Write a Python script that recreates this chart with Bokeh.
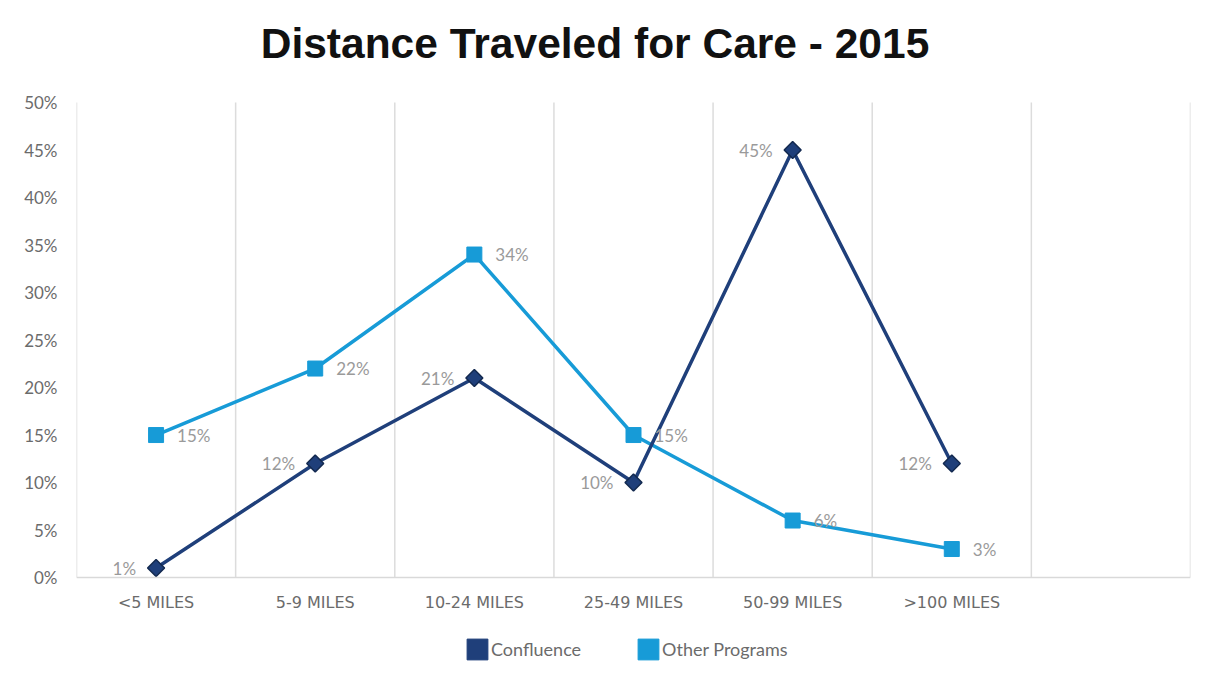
import math
from bokeh.plotting import figure
from bokeh.models import (FixedTicker, Legend, LegendItem, ColumnDataSource, Range1d, Span, Label)
from bokeh.embed import file_html
from bokeh.resources import INLINE
from bokeh.core.properties import value

# ---- data ----
categories = ["<5 MILES", "5-9 MILES", "10-24 MILES", "25-49 MILES", "50-99 MILES", ">100 MILES"]
confluence = [1, 12, 21, 10, 45, 12]
other_programs = [15, 22, 34, 15, 6, 3]
y_ticks = [0, 5, 10, 15, 20, 25, 30, 35, 40, 45, 50]
n_slots = 7  # one empty slot at the right

title_text = "Distance Traveled for Care - 2015"
series_names = ["Confluence", "Other Programs"]
colors = ["#1f3f7a", "#179bd7"]

xs = [i + 0.5 for i in range(len(categories))]
y_max = y_ticks[-1]

# frame extends beyond 0..50 so that title and legend can sit inside it
p = figure(width=1212, height=686, output_backend="svg", toolbar_location=None,
           x_range=Range1d(0, n_slots), y_range=Range1d(-11.26, 60.53),
           min_border_left=76, min_border_right=22, min_border_top=2, min_border_bottom=2)
p.outline_line_color = None
p.background_fill_color = "white"
p.border_fill_color = "white"

# title
p.add_layout(Label(x=518.5, y=641, x_units="screen", y_units="screen", text=title_text,
                   text_align="center", text_baseline="middle", text_font="Liberation Sans",
                   text_font_style="bold", text_font_size="42.5px", text_color="#111111"))

# grid: vertical lines at category boundaries, from 0 to the top
p.xgrid.grid_line_color = None
p.ygrid.grid_line_color = None
bounds = list(range(n_slots + 1))
p.segment(x0=bounds, y0=[0] * len(bounds), x1=bounds, y1=[y_max] * len(bounds),
          line_color="#dcdcdc", line_width=1.5)
p.add_layout(Span(location=0, dimension="width", line_color="#d9d9d9", line_width=1.5))

# x axis drawn as text under the zero line
p.xaxis.visible = False
p.text(x=xs, y=[0] * len(xs), text=categories, y_offset=25, text_align="center",
       text_baseline="middle", text_font=value("DejaVu Sans"), text_font_size="16px",
       text_color="#6b6b6b")

# y axis
p.yaxis.ticker = FixedTicker(ticks=y_ticks)
p.yaxis.major_label_overrides = {t: f"{t}%" for t in y_ticks}
p.yaxis.axis_line_color = None
p.yaxis.major_tick_line_color = None
p.yaxis.minor_tick_line_color = None
p.yaxis.major_tick_out = 0
p.yaxis.major_label_standoff = 19
p.yaxis.major_label_text_font = "Lato"
p.yaxis.major_label_text_font_size = "17px"
p.yaxis.major_label_text_color = "#6b6b6b"

# series
src_c = ColumnDataSource(dict(x=xs, y=confluence, lab=[f"{v}%" for v in confluence]))
src_o = ColumnDataSource(dict(x=xs, y=other_programs, lab=[f"{v}%" for v in other_programs]))

p.line("x", "y", source=src_o, line_color=colors[1], line_width=3.5)
p.scatter("x", "y", source=src_o, marker="square", size=15, fill_color=colors[1], line_color=colors[1])
p.line("x", "y", source=src_c, line_color=colors[0], line_width=3.5)
p.scatter("x", "y", source=src_c, marker="square", angle=math.pi / 4, size=12,
          fill_color=colors[0], line_color="#13294f", line_width=1.5)

p.text("x", "y", text="lab", source=src_c, x_offset=-20, text_align="right", text_baseline="middle",
       text_font=value("Lato"), text_font_size="17px", text_color="#9a9a9a")
p.text("x", "y", text="lab", source=src_o, x_offset=21, text_align="left", text_baseline="middle",
       text_font=value("Lato"), text_font_size="17px", text_color="#9a9a9a")

# legend with square swatches (zero-width dummy bars only provide the swatches)
leg_c = p.vbar(x=[0], top=[0], width=0, fill_color=colors[0], line_color=colors[0])
leg_o = p.vbar(x=[0], top=[0], width=0, fill_color=colors[1], line_color=colors[1])
legend = Legend(items=[LegendItem(label=series_names[0], renderers=[leg_c]),
                       LegendItem(label=series_names[1], renderers=[leg_o])],
                orientation="horizontal", location=(388, 22), border_line_color=None,
                background_fill_alpha=0,
                label_text_font="Lato", label_text_font_size="18px", label_text_color="#6b6b6b",
                glyph_width=26, glyph_height=26, spacing=54, label_standoff=1, margin=0, padding=5)
p.add_layout(legend, "center")

open("out.html", "w").write(file_html(p, INLINE))
